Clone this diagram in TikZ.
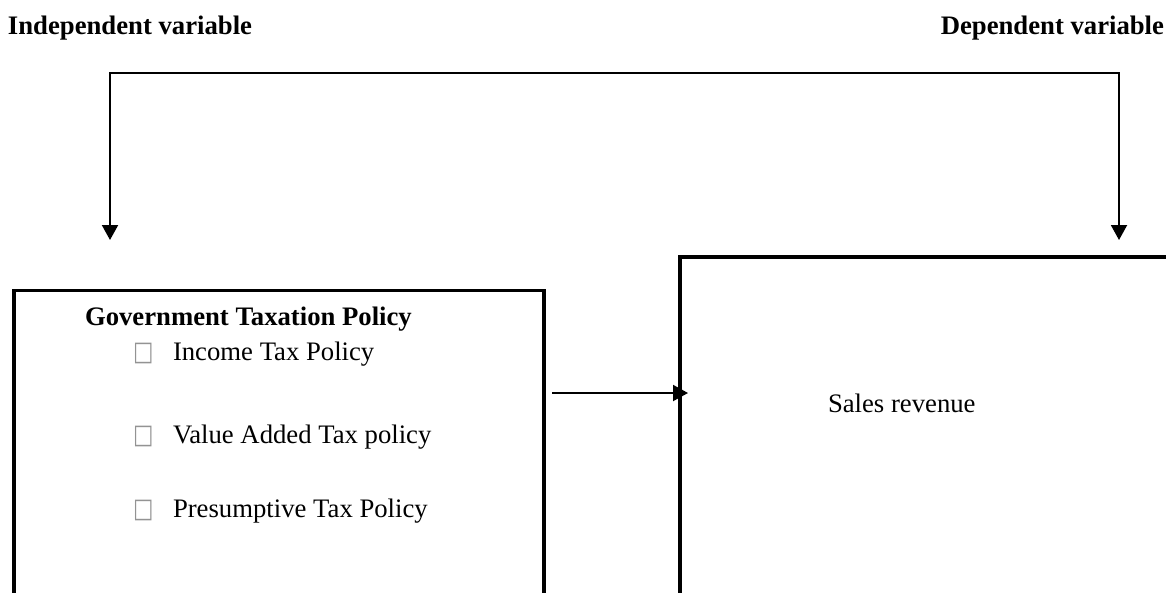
\documentclass[tikz,border=0pt]{standalone}
\usepackage{fontspec}
\setmainfont{Liberation Serif}
\newfontfamily\symfont{DejaVu Sans}
\usetikzlibrary{arrows.meta}
\begin{document}
\begin{tikzpicture}[x=1pt,y=-1pt,
  >={Triangle[length=15pt,width=16pt]},
  every node/.style={inner sep=0pt, outer sep=0pt},
  lbl/.style={font=\fontsize{26.7}{32}\selectfont, anchor=base west},
  hdr/.style={font=\fontsize{26.7}{32}\selectfont\bfseries},
  boxline/.style={draw, line width=3.3pt, anchor=north west},
  conn/.style={line width=2pt},
  bul/.style={font=\symfont\fontsize{27}{30}\selectfont, text=gray!85, anchor=base west}]

\useasboundingbox (0,0) rectangle (1166,592);
\clip (0,0) rectangle (1166,592);

% headings
\node[hdr, anchor=base west] (iv) at (8,34.5) {Independent variable};
\node[hdr, anchor=base east] (dv) at (1164,34.5) {Dependent variable};

% boxes (extend past the lower and right edges)
\node[boxline, minimum width=530pt, minimum height=350pt] (gov) at (14,290.7) {};
\node[boxline, minimum width=560pt, minimum height=400pt] (sales) at (680,257) {};

% top connector
\coordinate (la) at (110,240);
\coordinate (ra) at (1119,240);
\coordinate (tc) at (614.5,73);
\draw[conn, <->] (la) |- (tc) -| (ra);

% horizontal arrow
\coordinate (hs) at (552,393);
\coordinate (he) at (688,393);
\draw[conn, ->] (hs) -- (he);

% box contents
\node[hdr, anchor=base west] (gt) at (85,325) {Government Taxation Policy};
\node[bul] (b1) at (133,360) {\scalebox{0.8}[1]{□}};
\node[lbl] (t1) at (173,360) {Income Tax Policy};
\node[bul] (b2) at (133,443) {\scalebox{0.8}[1]{□}};
\node[lbl] (t2) at (173,443) {Value Added Tax policy};
\node[bul] (b3) at (133,517) {\scalebox{0.8}[1]{□}};
\node[lbl] (t3) at (173,517) {Presumptive Tax Policy};

\node[lbl] (sr) at (828,412) {Sales revenue};
\end{tikzpicture}
\end{document}
